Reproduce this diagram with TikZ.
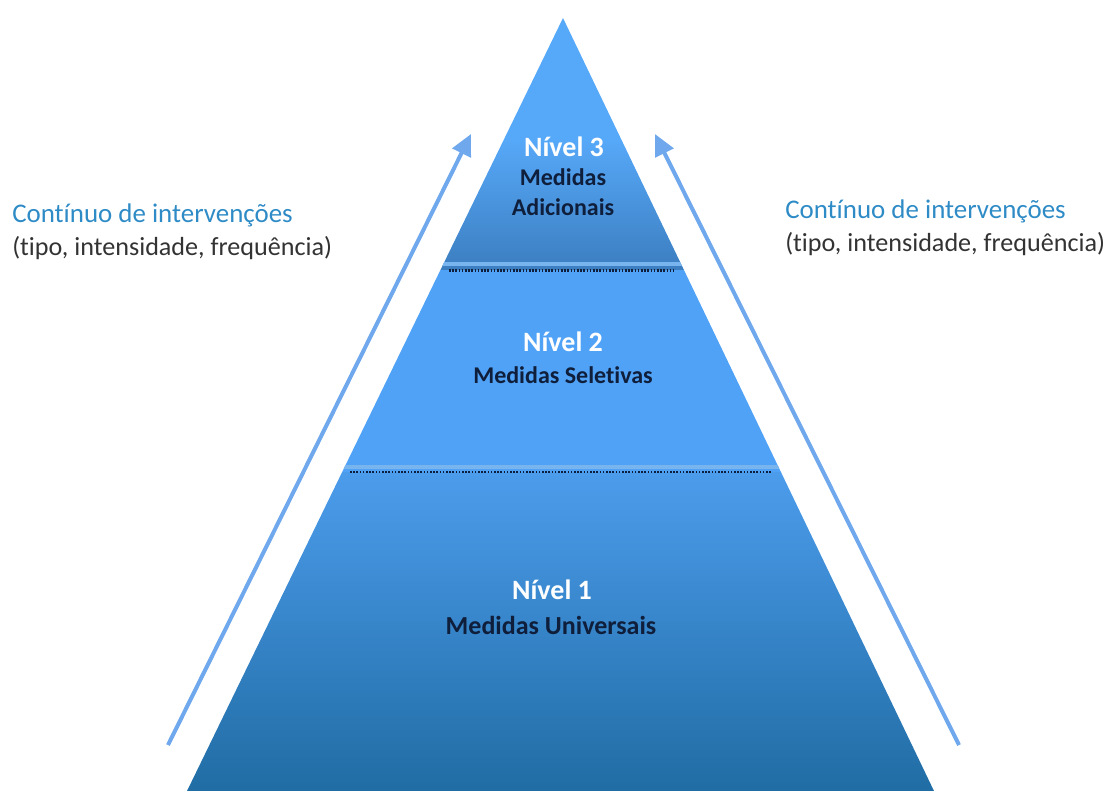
\documentclass[tikz,border=0pt]{standalone}
\usepackage{fontspec}
\setmainfont{Carlito}[Ligatures=NoCommon]
\usetikzlibrary{arrows.meta}
\definecolor{txtblue}{HTML}{2E8BC6}
\definecolor{txtgray}{HTML}{333333}
\definecolor{navy}{HTML}{0F1E3A}
\definecolor{arrowblue}{HTML}{6FA8EC}
\definecolor{lvthree}{HTML}{56A8F8}
\definecolor{lvthreeb}{HTML}{3C7EC0}
\definecolor{lvtwo}{HTML}{50A2F6}
\definecolor{lvonet}{HTML}{4C9CEC}
\definecolor{lvoneb}{HTML}{1F6BA2}
\definecolor{sepline}{HTML}{78B4EE}
\tikzset{
  lvtitle/.style={font=\fontsize{21}{24}\selectfont\bfseries, text=white, inner sep=0pt},
  lvsub/.style={font=\fontsize{18}{22.5}\selectfont\bfseries, text=navy, inner sep=0pt, align=center},
  lvsubbig/.style={font=\fontsize{19.5}{24}\selectfont\bfseries, text=navy, inner sep=0pt, align=center},
  sidehead/.style={font=\fontsize{20.2}{24}\selectfont, text=txtblue, inner sep=0pt, anchor=base west},
  sidesub/.style={font=\fontsize{19.6}{24}\selectfont, text=txtgray, inner sep=0pt, anchor=base west},
  upar/.style={draw=arrowblue, line width=3pt, -{Triangle[length=16pt, width=15pt, fill=arrowblue]}},
  sepdots/.style={draw=navy, line width=2.2pt, dash pattern=on 1.2pt off 1.2pt},
  sepband/.style={draw=sepline, line width=2.5pt},
}
\begin{document}
\begin{tikzpicture}[x=0.75pt,y=-0.75pt]
\useasboundingbox (0,0) rectangle (1110,791);
% pyramid
\begin{scope}
  \clip (563,18) -- (934,791) -- (187,791) -- cycle;
  \shade[top color=lvthree, bottom color=lvthreeb, middle color=lvthree] (150,10) rectangle (980,270);
  \fill[lvtwo] (150,270) rectangle (980,472);
  \shade[top color=lvonet, bottom color=lvoneb] (150,472) rectangle (980,800);
  \draw[sepband] (150,264) -- (980,264);
  \draw[sepband] (150,467) -- (980,467);
\end{scope}
\draw[sepdots] (449,270.5) -- (674,270.5);
\draw[sepdots] (350,472) -- (772,472);
% labels
\node[lvtitle] (n3) at (564,147) {Nível 3};
\node[lvsub] (m3) at (563,192) {Medidas\\Adicionais};
\node[lvtitle] (n2) at (563,342) {Nível 2};
\node[lvsub] (m2) at (563,375) {Medidas Seletivas};
\node[lvtitle] (n1) at (552,590) {Nível 1};
\node[lvsubbig] (m1) at (551,625) {Medidas Universais};
% arrows
\coordinate (la) at (168,745);
\coordinate (lb) at (471,134);
\coordinate (ra) at (959,745);
\coordinate (rb) at (655,134);
\draw[upar] (la) -- (lb);
\draw[upar] (ra) -- (rb);
% side texts
\node[sidehead] (lh) at (12,223) {Contínuo de intervenções};
\node[sidesub] (ls) at (12,256) {(tipo, intensidade, frequência)};
\node[sidehead] (rh) at (785,219) {Contínuo de intervenções};
\node[sidesub] (rs) at (785,252) {(tipo, intensidade, frequência)};
\end{tikzpicture}
\end{document}
